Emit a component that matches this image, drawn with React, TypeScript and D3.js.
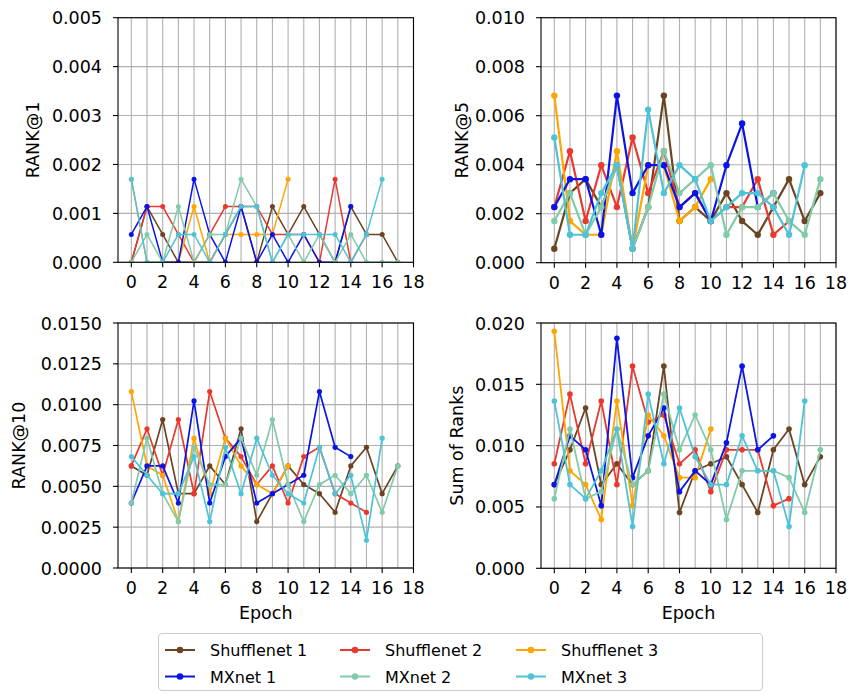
import React from 'react';
import * as d3 from 'd3';

// Series legend entries and colours
const SERIES_NAMES = ['Shufflenet 1', 'Shufflenet 2', 'Shufflenet 3', 'MXnet 1', 'MXnet 2', 'MXnet 3'];
const SERIES_COLORS = ['#6b4423', '#e8392f', '#ffa500', '#0a14e6', '#80cba8', '#4ec3d8'];

// RANK@1 per epoch
const rank1Shufflenet1 = [0, 0.00114, 0.00057, 0, 0, 0, 0.00057, 0.00114, 0, 0.00114, 0.00057, 0.00114, 0.00057, 0, 0.00114, 0.00057, 0.00057, 0];
const rank1Shufflenet2 = [0, 0.00114, 0.00114, 0.00057, 0, 0.00057, 0.00114, 0.00114, 0.00114, 0.00057, 0.00057, 0.00057, 0, 0.0017, 0, 0.00057];
const rank1Shufflenet3 = [0.0017, 0, 0, 0, 0.00114, 0, 0.00057, 0.00057, 0.00057, 0.00057, 0.0017];
const rank1MXnet1 = [0.00057, 0.00114, 0, 0, 0.0017, 0.00057, 0, 0.00114, 0, 0.00057, 0, 0.00057, 0, 0, 0.00114];
const rank1MXnet2 = [0, 0.00057, 0, 0.00114, 0, 0.00057, 0.00057, 0.0017, 0.00114, 0, 0.00057, 0, 0.00057, 0, 0.00057, 0, 0, 0];
const rank1MXnet3 = [0.0017, 0, 0, 0.00057, 0.00057, 0, 0.00057, 0.00114, 0.00114, 0, 0.00057, 0.00057, 0.00057, 0.00057, 0, 0.00057, 0.0017];

// RANK@5 per epoch
const rank5Shufflenet1 = [0.00057, 0.00284, 0.00341, 0.00227, 0.00398, 0.00057, 0.00227, 0.00682, 0.0017, 0.00227, 0.0017, 0.00284, 0.0017, 0.00114, 0.00227, 0.00341, 0.0017, 0.00284];
const rank5Shufflenet2 = [0.00227, 0.00455, 0.0017, 0.00398, 0.00227, 0.00511, 0.00284, 0.00455, 0.00227, 0.00284, 0.0017, 0.00227, 0.00227, 0.00341, 0.00114, 0.0017];
const rank5Shufflenet3 = [0.00682, 0.0017, 0.00114, 0.00114, 0.00455, 0.00057, 0.00398, 0.00398, 0.0017, 0.00227, 0.00341];
const rank5MXnet1 = [0.00227, 0.00341, 0.00341, 0.00114, 0.00682, 0.00284, 0.00398, 0.00398, 0.00227, 0.00284, 0.0017, 0.00398, 0.00568, 0.00227, 0.00284];
const rank5MXnet2 = [0.0017, 0.00284, 0.00114, 0.00227, 0.00398, 0.00057, 0.00227, 0.00455, 0.00284, 0.00341, 0.00398, 0.00114, 0.00227, 0.00227, 0.00284, 0.0017, 0.00114, 0.00341];
const rank5MXnet3 = [0.00511, 0.00114, 0.00114, 0.00284, 0.00398, 0.00057, 0.00625, 0.00284, 0.00398, 0.00341, 0.0017, 0.00227, 0.00284, 0.00284, 0.00227, 0.00114, 0.00398];

// RANK@10 per epoch
const rank10Shufflenet1 = [0.00625, 0.00568, 0.00909, 0.00455, 0.00455, 0.00625, 0.00511, 0.00852, 0.00284, 0.00455, 0.00625, 0.00511, 0.00455, 0.00341, 0.00625, 0.00739, 0.00455, 0.00625];
const rank10Shufflenet2 = [0.00625, 0.00852, 0.00568, 0.00909, 0.00455, 0.0108, 0.00795, 0.00682, 0.00511, 0.00625, 0.00398, 0.00682, 0.00739, 0.00455, 0.00398, 0.00341];
const rank10Shufflenet3 = [0.0108, 0.00625, 0.00568, 0.00284, 0.00795, 0.00455, 0.00795, 0.00625, 0.00511, 0.00455, 0.00625];
const rank10MXnet1 = [0.00398, 0.00625, 0.00625, 0.00398, 0.01023, 0.00398, 0.00682, 0.00795, 0.00398, 0.00455, 0.00511, 0.00568, 0.0108, 0.00739, 0.00682];
const rank10MXnet2 = [0.00398, 0.00795, 0.00455, 0.00284, 0.00739, 0.00511, 0.00511, 0.00795, 0.00568, 0.00909, 0.00511, 0.00284, 0.00511, 0.00568, 0.00455, 0.00568, 0.00341, 0.00625];
const rank10MXnet3 = [0.00682, 0.00568, 0.00455, 0.00455, 0.00682, 0.00284, 0.00739, 0.00455, 0.00795, 0.00568, 0.00455, 0.00398, 0.00739, 0.00455, 0.00568, 0.0017, 0.00795];

// Sum of ranks per epoch
const sumShufflenet1 = [0.00682, 0.00966, 0.01307, 0.00682, 0.00852, 0.00682, 0.00795, 0.01648, 0.00455, 0.00795, 0.00852, 0.00909, 0.00682, 0.00455, 0.00966, 0.01136, 0.00682, 0.00909];
const sumShufflenet2 = [0.00852, 0.0142, 0.00852, 0.01364, 0.00682, 0.01648, 0.01193, 0.0125, 0.00852, 0.00966, 0.00625, 0.00966, 0.00966, 0.00966, 0.00511, 0.00568];
const sumShufflenet3 = [0.01932, 0.00795, 0.00682, 0.00398, 0.01364, 0.00511, 0.0125, 0.0108, 0.00739, 0.00739, 0.01136];
const sumMXnet1 = [0.00682, 0.0108, 0.00966, 0.00511, 0.01875, 0.00739, 0.0108, 0.01307, 0.00625, 0.00795, 0.00682, 0.01023, 0.01648, 0.00966, 0.0108];
const sumMXnet2 = [0.00568, 0.01136, 0.00568, 0.00625, 0.01136, 0.00682, 0.00795, 0.0142, 0.00966, 0.0125, 0.00966, 0.00398, 0.00795, 0.00795, 0.00795, 0.00739, 0.00455, 0.00966];
const sumMXnet3 = [0.01364, 0.00682, 0.00568, 0.00795, 0.01136, 0.00341, 0.0142, 0.00852, 0.01307, 0.00909, 0.00682, 0.00682, 0.0108, 0.00795, 0.00795, 0.00341, 0.01364];

// Axis ticks
const X_TICKS = [0, 2, 4, 6, 8, 10, 12, 14, 16, 18];
const X_GRID = d3.range(0, 19);
const Y_TICKS_RANK1 = [0, 0.001, 0.002, 0.003, 0.004, 0.005];
const Y_TICKS_RANK5 = [0, 0.002, 0.004, 0.006, 0.008, 0.01];
const Y_TICKS_RANK10 = [0, 0.0025, 0.005, 0.0075, 0.01, 0.0125, 0.015];
const Y_TICKS_SUM = [0, 0.005, 0.01, 0.015, 0.02];

const FONT = "'DejaVu Sans', 'Liberation Sans', sans-serif";

type Panel = {
  id: string;
  label: string;
  series: number[][];
  yTicks: number[];
  digits: number;
  left: number;
  right: number;
  top: number;
  bottom: number;
  lineWidth: number;
  r: number;
  labelX: number;
  xLabel: boolean;
};

const PANELS: Panel[] = [
  {
    id: 'p1', label: 'RANK@1',
    series: [rank1Shufflenet1, rank1Shufflenet2, rank1Shufflenet3, rank1MXnet1, rank1MXnet2, rank1MXnet3],
    yTicks: Y_TICKS_RANK1, digits: 3,
    left: 118, right: 413.5, top: 17.7, bottom: 262.3, lineWidth: 1.5, r: 2.5, labelX: 33, xLabel: false,
  },
  {
    id: 'p2', label: 'RANK@5',
    series: [rank5Shufflenet1, rank5Shufflenet2, rank5Shufflenet3, rank5MXnet1, rank5MXnet2, rank5MXnet3],
    yTicks: Y_TICKS_RANK5, digits: 3,
    left: 541, right: 836, top: 17.7, bottom: 262.7, lineWidth: 2.2, r: 3.2, labelX: 462, xLabel: false,
  },
  {
    id: 'p3', label: 'RANK@10',
    series: [rank10Shufflenet1, rank10Shufflenet2, rank10Shufflenet3, rank10MXnet1, rank10MXnet2, rank10MXnet3],
    yTicks: Y_TICKS_RANK10, digits: 4,
    left: 118, right: 413.5, top: 323, bottom: 568, lineWidth: 1.7, r: 2.6, labelX: 19, xLabel: true,
  },
  {
    id: 'p4', label: 'Sum of Ranks',
    series: [sumShufflenet1, sumShufflenet2, sumShufflenet3, sumMXnet1, sumMXnet2, sumMXnet3],
    yTicks: Y_TICKS_SUM, digits: 3,
    left: 541, right: 836, top: 323, bottom: 568.3, lineWidth: 1.8, r: 2.8, labelX: 457, xLabel: true,
  },
];

function PanelView({ p }: { p: Panel }) {
  const x = d3.scaleLinear().domain([-0.85, 18]).range([p.left, p.right]);
  const yMax = p.yTicks[p.yTicks.length - 1];
  const y = d3.scaleLinear().domain([0, yMax]).range([p.bottom, p.top]);
  const line = d3.line<number>().x((_, i) => x(i)).y((d) => y(d));
  const fmt = d3.format(`.${p.digits}f`);
  const clipId = `clip-${p.id}`;
  return (
    <g>
      <defs>
        <clipPath id={clipId}>
          <rect x={p.left} y={p.top} width={p.right - p.left} height={p.bottom - p.top} />
        </clipPath>
      </defs>
      <rect x={p.left} y={p.top} width={p.right - p.left} height={p.bottom - p.top} fill="#ffffff" />
      {X_GRID.map((t) => (
        <line key={`gx${t}`} x1={x(t)} x2={x(t)} y1={p.top} y2={p.bottom} stroke="#b0b0b0" strokeWidth={1.1} />
      ))}
      {p.yTicks.map((t) => (
        <line key={`gy${t}`} x1={p.left} x2={p.right} y1={y(t)} y2={y(t)} stroke="#b0b0b0" strokeWidth={1.1} />
      ))}
      <g clipPath={`url(#${clipId})`}>
        {p.series.map((s, si) => (
          <g key={si}>
            <path d={line(s) || ''} fill="none" stroke={SERIES_COLORS[si]} strokeWidth={p.lineWidth} strokeLinejoin="round" />
            {s.map((v, i) => (
              <circle key={i} cx={x(i)} cy={y(v)} r={p.r} fill={SERIES_COLORS[si]} />
            ))}
          </g>
        ))}
      </g>
      <rect x={p.left} y={p.top} width={p.right - p.left} height={p.bottom - p.top} fill="none" stroke="#000" strokeWidth={1.1} />
      {X_TICKS.map((t) => (
        <g key={`tx${t}`}>
          <line x1={x(t)} x2={x(t)} y1={p.bottom} y2={p.bottom + 5} stroke="#000" strokeWidth={1.1} />
          <text x={x(t)} y={p.bottom + 26} textAnchor="middle" fontSize={17.5} fontFamily={FONT} fill="#000">{t}</text>
        </g>
      ))}
      {p.yTicks.map((t) => (
        <g key={`ty${t}`}>
          <line x1={p.left - 5} x2={p.left} y1={y(t)} y2={y(t)} stroke="#000" strokeWidth={1.1} />
          <text x={p.left - 16} y={y(t) + 6.5} textAnchor="end" fontSize={17.5} fontFamily={FONT} fill="#000">{fmt(t)}</text>
        </g>
      ))}
      <text
        transform={`translate(${p.labelX},${(p.top + p.bottom) / 2}) rotate(-90)`}
        textAnchor="middle"
        dominantBaseline="central"
        fontSize={17.5}
        fontFamily={FONT}
        fill="#000"
      >
        {p.label}
      </text>
      {p.xLabel && (
        <text x={(p.left + p.right) / 2} y={p.bottom + 51} textAnchor="middle" fontSize={17.5} fontFamily={FONT} fill="#000">
          Epoch
        </text>
      )}
    </g>
  );
}

function Legend() {
  const colX = [165, 340, 516];
  const rowY = [650, 676.5];
  return (
    <g>
      <rect x={158.5} y={633.5} width={604} height={57} rx={4} fill="#ffffff" fillOpacity={0.8} stroke="#cccccc" strokeWidth={1.1} />
      {SERIES_NAMES.map((name, i) => {
        const cx = colX[i % 3];
        const cy = rowY[Math.floor(i / 3)];
        return (
          <g key={name}>
            <line x1={cx} x2={cx + 30} y1={cy} y2={cy} stroke={SERIES_COLORS[i]} strokeWidth={2} />
            <circle cx={cx + 15} cy={cy} r={3.3} fill={SERIES_COLORS[i]} />
            <text x={cx + 45} y={cy + 6} fontSize={16} fontFamily={FONT} fill="#000">{name}</text>
          </g>
        );
      })}
    </g>
  );
}

export default function App() {
  return (
    <svg width={850} height={694} style={{ position: 'absolute', left: 0, top: 0, background: '#fff' }}>
      <rect width={850} height={694} fill="#ffffff" />
      {PANELS.map((p) => (
        <PanelView key={p.id} p={p} />
      ))}
      <Legend />
    </svg>
  );
}
